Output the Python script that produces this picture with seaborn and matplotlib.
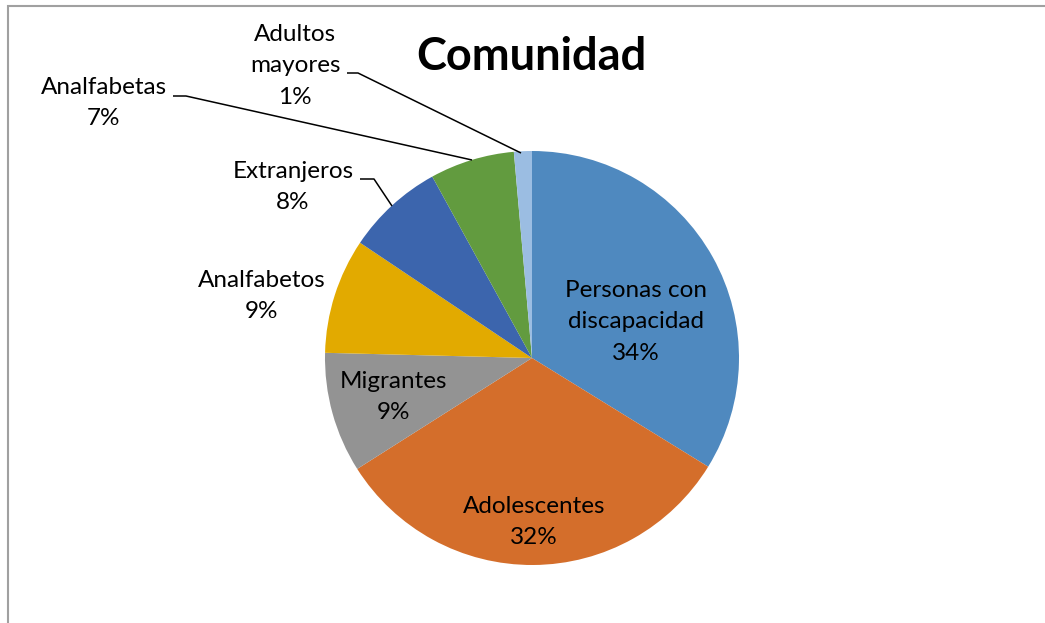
import matplotlib
matplotlib.use("Agg")
import matplotlib.pyplot as plt
import seaborn as sns
from matplotlib.patches import Rectangle

categories = ["Personas con\ndiscapacidad", "Adolescentes", "Migrantes", "Analfabetos",
              "Extranjeros", "Analfabetas", "Adultos\nmayores"]
values = [33.8, 32.2, 9.4, 9.0, 7.6, 6.6, 1.4]
pct_labels = ["34%", "32%", "9%", "9%", "8%", "7%", "1%"]
colors = ["#4F89BF", "#D46E2B", "#939393", "#E2AA00", "#3C65AD", "#629B3F", "#9BBDE2"]
title = "Comunidad"

sns.set_theme(style="white")
plt.rcParams['font.family'] = ['Lato', 'DejaVu Sans']

W, H = 1045, 623
fig = plt.figure(figsize=(W / 100, H / 100), dpi=100)
ax = fig.add_axes([0, 0, 1, 1])

cx, cy, r = 532, H - 358, 207
ax.pie(values, colors=colors, startangle=90, counterclock=False,
       center=(cx, cy), radius=r, frame=True,
       wedgeprops=dict(linewidth=0))
ax.set_xlim(0, W)
ax.set_ylim(0, H)
ax.set_aspect('equal')
ax.axis('off')

fs = 17.5
# label positions (pixel coords, top-left origin), layout only
pos = [(636, 322), (534, 522), (393, 397), (262, 296), (293, 187), (104, 103), (295, 66)]
for lab, pct, (px, py) in zip(categories, pct_labels, pos):
    ax.text(px, H - py, f"{lab}\n{pct}", ha='center', va='center', fontsize=fs,
            color='black', linespacing=1.6)

# leader lines
leaders = [
    [(360, 179), (374, 179), (392, 206)],   # Extranjeros
    [(173, 96), (186, 96), (472, 160)],     # Analfabetas
    [(347, 73), (358, 73), (521, 153)],     # Adultos mayores
]
for pts in leaders:
    xs = [p[0] for p in pts]
    ys = [H - p[1] for p in pts]
    ax.plot(xs, ys, color='black', lw=1.1, solid_capstyle='butt')

fig.text(531 / W, 1 - 57 / H, title, ha='center', va='center',
         fontsize=32.5, fontweight='bold', color='black')

# chart area border (cropped)
fig.patches.append(Rectangle((8 / W, -0.1), 1.2, 1 - 6 / H + 0.1, transform=fig.transFigure,
                             fill=False, edgecolor='#A0A0A0', lw=1.5))

fig.savefig("out.png", dpi=100)
